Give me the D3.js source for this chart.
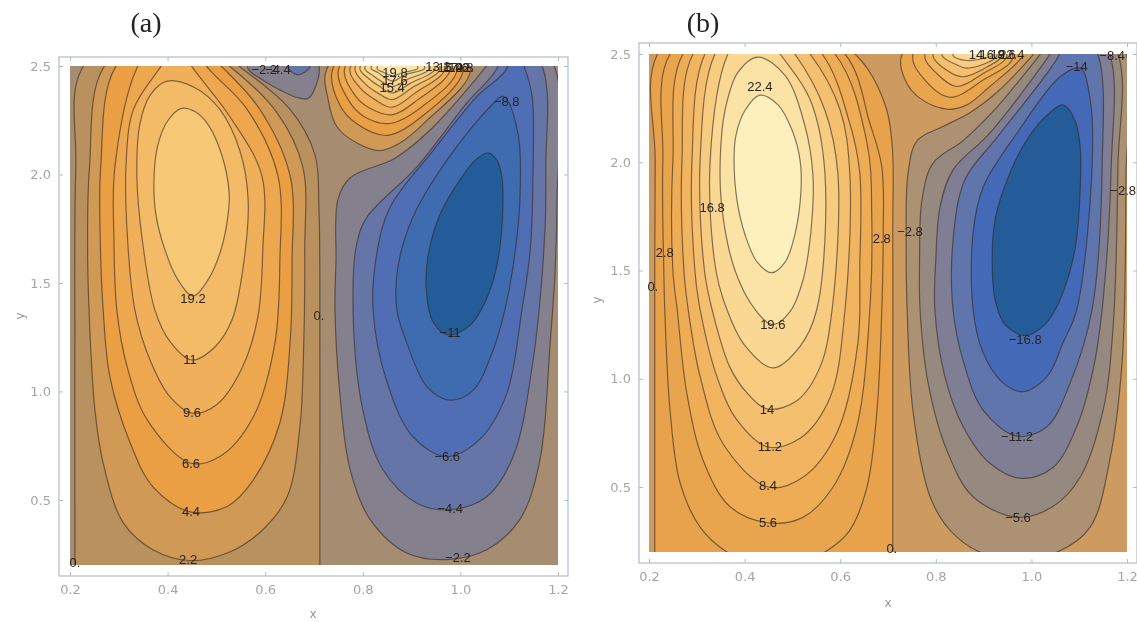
<!DOCTYPE html>
<html>
<head>
<meta charset="utf-8">
<script src="https://cdn.jsdelivr.net/npm/d3@7"></script>
<style>
  html, body { margin: 0; padding: 0; background: #fff; overflow: hidden; }
  svg { display: block; }
</style>
</head>
<body>
<svg id="chart" width="1137" height="622"></svg>
<script>
var xTicks = [0.2, 0.4, 0.6, 0.8, 1.0, 1.2];
var yTicks = [0.5, 1.0, 1.5, 2.0, 2.5];

// panel (a): contour levels, each with the outline
var levelsA = [0, 2.2, 4.4, 6.6, 8.8, 11, 13.2,
  -2.2, -4.4,
  2.2, 4.4, 6.6, 8.8, 11, 13.2, 15.4, 17.6, 19.8, 22,
  -2.2, -4.4, -6.6, -8.8, -11];
var linesA = [
  [[.21,-.2],[.21,.1],[.21,.5],[.21,1.2],[.212,2.03],[.225,2.49],[.39,2.75],[.552,2.49],[.651,2.3],[.702,2.09],[.71,1.85],[.712,1.2],[.712,.5],[.712,.1],[.712,-.2]],
  [[.268,2.49],[.24,2.035],[.236,1.7],[.239,1.375],[.251,.915],[.268,.67],[.309,.395],[.37,.27],[.446,.22],[.522,.255],[.589,.35],[.645,.515],[.671,.835],[.679,1.225],[.681,1.65],[.677,2.035],[.624,2.285],[.532,2.49],[.40,2.7]],
  [[.292,2.49],[.263,2.035],[.262,1.7],[.268,1.375],[.282,1.065],[.323,.765],[.37,.56],[.446,.445],[.522,.47],[.575,.59],[.63,.855],[.651,1.225],[.655,1.6],[.651,1.995],[.589,2.30],[.514,2.49],[.41,2.7]],
  [[.337,2.49],[.292,2.035],[.29,1.7],[.296,1.375],[.317,1.115],[.358,.87],[.446,.67],[.507,.70],[.575,.88],[.62,1.225],[.63,1.6],[.626,1.995],[.563,2.30],[.483,2.49],[.41,2.7]],
  [[.384,2.49],[.33,2.30],[.315,2.05],[.318,1.7],[.333,1.375],[.364,1.145],[.405,.975],[.45,.90],[.501,.94],[.554,1.115],[.585,1.345],[.595,1.65],[.593,1.995],[.528,2.265],[.452,2.49],[.42,2.6]],
  [[.399,2.43],[.364,2.365],[.343,2.23],[.337,1.995],[.348,1.70],[.374,1.375],[.405,1.23],[.45,1.145],[.497,1.205],[.532,1.33],[.554,1.56],[.565,1.885],[.548,2.11],[.507,2.30],[.456,2.40]],
  [[.429,2.305],[.401,2.25],[.38,2.135],[.372,1.975],[.376,1.815],[.395,1.65],[.421,1.515],[.452,1.44],[.483,1.515],[.509,1.65],[.524,1.815],[.526,1.92],[.511,2.09],[.483,2.23],[.456,2.29]],
  [[.563,2.5],[.595,2.435],[.63,2.39],[.665,2.355],[.688,2.35],[.704,2.41],[.71,2.5],[.65,2.7]],
  [[.645,2.5],[.665,2.46],[.68,2.47],[.692,2.5],[.67,2.6]],
  [[.727,2.49],[.729,2.345],[.747,2.22],[.788,2.145],[.835,2.11],[.876,2.145],[.927,2.24],[1.02,2.49],[.87,2.7]],
  [[.739,2.49],[.753,2.32],[.79,2.23],[.85,2.18],[.917,2.26],[1.005,2.49],[.87,2.7]],
  [[.751,2.49],[.77,2.345],[.804,2.265],[.856,2.235],[.917,2.305],[.993,2.49],[.87,2.7]],
  [[.763,2.49],[.784,2.365],[.815,2.305],[.86,2.275],[.913,2.345],[.979,2.49],[.87,2.68]],
  [[.774,2.49],[.794,2.40],[.825,2.345],[.86,2.31],[.907,2.375],[.968,2.49],[.87,2.66]],
  [[.784,2.49],[.804,2.42],[.831,2.375],[.86,2.345],[.901,2.40],[.958,2.49],[.87,2.64]],
  [[.794,2.49],[.813,2.44],[.835,2.405],[.86,2.375],[.897,2.42],[.948,2.49],[.87,2.62]],
  [[.804,2.49],[.821,2.455],[.841,2.425],[.86,2.405],[.893,2.44],[.938,2.49],[.87,2.6]],
  [[.817,2.49],[.831,2.47],[.847,2.445],[.862,2.43],[.886,2.46],[.927,2.49],[.87,2.58]],
  [[.829,2.49],[.843,2.47],[.862,2.455],[.882,2.47],[.913,2.49],[.87,2.56]],
  [[.743,1.375],[.753,.99],[.774,.64],[.815,.41],[.89,.255],[.972,.225],[1.054,.27],[1.122,.41],[1.163,.685],[1.184,1.225],[1.194,1.55],[1.198,1.885],[1.194,2.49],[1.12,2.7],[1.05,2.49],[.938,2.205],[.866,2.075],[.774,1.985],[.749,1.885],[.745,1.6]],
  [[.78,1.375],[.80,.915],[.841,.64],[.911,.485],[.979,.455],[1.054,.515],[1.108,.70],[1.149,1.145],[1.173,1.73],[1.175,2.035],[1.169,2.49],[1.10,2.7],[1.075,2.49],[1.013,2.33],[.911,2.035],[.809,1.805],[.788,1.685]],
  [[.821,1.375],[.85,1.04],[.903,.79],[.972,.70],[1.04,.78],[1.095,.99],[1.126,1.375],[1.143,1.65],[1.149,2.035],[1.147,2.36],[1.132,2.49],[1.10,2.65],[1.095,2.49],[1.034,2.36],[.944,2.11],[.856,1.85],[.829,1.64]],
  [[.87,1.375],[.89,1.225],[.932,1.02],[.979,.96],[1.026,1.005],[1.067,1.19],[1.091,1.375],[1.108,1.575],[1.122,1.885],[1.118,2.19],[1.088,2.36],[1.06,2.31],[.972,2.065],[.903,1.805],[.872,1.575]],
  [[1.057,2.10],[1.075,2.065],[1.085,1.99],[1.087,1.835],[1.077,1.605],[1.057,1.445],[1.02,1.305],[.975,1.26],[.944,1.32],[.93,1.47],[.934,1.63],[.958,1.815],[.999,1.975],[1.03,2.065]]
];
var labelTextA = ["\u22122.2", "\u22124.4", "19.8", "17.6", "15.4", "13.2", "15.4", "17.6", "19.8", "22.",
  "\u22128.8", "19.2", "11", "9.6", "6.6", "4.4", "2.2", "0.", "0.", "\u221211", "\u22126.6", "\u22124.4", "\u22122.2"];
var labelXA = [.598, .626, .866, .866, .86, .954, .979, .991, 1.001, 1.009,
  1.095, .452, .446, .45, .448, .448, .442, .21, .71, .979, .973, .979, .995];
var labelYA = [2.485, 2.485, 2.47, 2.435, 2.40, 2.5, 2.495, 2.495, 2.495, 2.495,
  2.335, 1.43, 1.145, .905, .67, .445, .225, .21, 1.35, 1.27, .70, .46, .235];

// panel (b)
var levelsB = [0, 2.8, 5.6, 8.4, 11.2, 14, 16.8, 19.6, 22.4,
  2.8, 5.6, 8.4, 11.2, 14, 16.8,
  -2.8, -5.6, -8.4, -11.2, -14, -16.8];
var linesB = [
  [[.212,-.2],[.212,.1],[.212,.5],[.212,1.2],[.213,2.0],[.218,2.5],[.40,2.8],[.631,2.5],[.69,2.29],[.708,2.10],[.71,1.675],[.71,1.0],[.71,.5],[.71,.1],[.71,-.2]],
  [[.244,2.5],[.229,2.01],[.231,1.5],[.233,1.32],[.244,.855],[.265,.52],[.307,.315],[.363,.2],[.464,.11],[.568,.2],[.62,.30],[.656,.50],[.677,.855],[.687,1.32],[.69,1.675],[.687,1.98],[.662,2.18],[.61,2.5],[.42,2.75]],
  [[.271,2.5],[.25,2.01],[.25,1.5],[.259,1.32],[.279,.935],[.313,.625],[.369,.41],[.449,.335],[.522,.36],[.585,.50],[.635,.78],[.662,1.32],[.666,1.75],[.656,2.09],[.589,2.5],[.42,2.75]],
  [[.292,2.5],[.269,2.01],[.273,1.5],[.282,1.32],[.307,1.01],[.355,.70],[.449,.50],[.522,.545],[.593,.75],[.637,1.165],[.641,1.515],[.641,1.95],[.62,2.18],[.562,2.5],[.42,2.75]],
  [[.317,2.5],[.29,2.01],[.296,1.5],[.307,1.32],[.342,1.01],[.384,.81],[.449,.685],[.516,.725],[.579,.915],[.61,1.32],[.62,1.95],[.60,2.24],[.537,2.5],[.42,2.75]],
  [[.338,2.5],[.307,2.01],[.316,1.5],[.332,1.32],[.369,1.055],[.405,.935],[.449,.86],[.51,.90],[.558,1.055],[.583,1.32],[.595,1.95],[.568,2.24],[.505,2.5],[.42,2.7]],
  [[.365,2.5],[.328,2.01],[.34,1.5],[.363,1.32],[.40,1.155],[.459,1.05],[.516,1.15],[.551,1.32],[.568,1.95],[.537,2.29],[.474,2.5],[.42,2.65]],
  [[.428,2.486],[.386,2.415],[.359,2.24],[.349,2.01],[.353,1.78],[.38,1.50],[.422,1.32],[.459,1.25],[.495,1.31],[.522,1.455],[.539,1.687],[.543,1.94],[.526,2.17],[.485,2.40]],
  [[.432,2.31],[.401,2.24],[.382,2.125],[.378,2.01],[.384,1.825],[.401,1.665],[.426,1.54],[.457,1.49],[.485,1.54],[.505,1.665],[.518,1.87],[.516,2.01],[.499,2.15],[.47,2.265]],
  [[.729,2.495],[.736,2.38],[.767,2.295],[.823,2.245],[.865,2.265],[.913,2.35],[.97,2.46],[.982,2.5],[.85,2.72]],
  [[.752,2.495],[.777,2.38],[.83,2.30],[.899,2.38],[.961,2.486],[.85,2.7]],
  [[.777,2.495],[.802,2.41],[.844,2.35],[.899,2.41],[.949,2.495],[.86,2.68]],
  [[.794,2.495],[.823,2.425],[.857,2.395],[.907,2.44],[.938,2.495],[.865,2.65]],
  [[.813,2.495],[.844,2.45],[.865,2.435],[.913,2.465],[.928,2.495],[.87,2.6]],
  [[.836,2.495],[.865,2.47],[.899,2.48],[.918,2.495],[.875,2.58]],
  [[.74,1.32],[.752,.855],[.788,.455],[.83,.30],[.892,.2],[.972,.17],[1.054,.2],[1.123,.315],[1.164,.625],[1.19,1.085],[1.198,1.95],[1.198,2.5],[1.10,2.75],[.997,2.48],[.934,2.335],[.872,2.23],[.815,2.165],[.761,2.10],[.742,1.95],[.738,1.6]],
  [[.767,1.32],[.784,.98],[.823,.67],[.878,.455],[.972,.36],[1.045,.41],[1.102,.545],[1.15,.855],[1.171,1.24],[1.181,1.98],[1.181,2.5],[1.10,2.72],[1.012,2.48],[.928,2.255],[.857,2.10],[.794,1.995],[.771,1.825],[.766,1.55]],
  [[.798,1.32],[.819,1.01],[.857,.78],[.913,.61],[.98,.54],[1.045,.59],[1.095,.78],[1.129,1.04],[1.148,1.32],[1.167,1.98],[1.164,2.5],[1.10,2.7],[1.033,2.48],[.913,2.135],[.836,1.965],[.809,1.795],[.8,1.55]],
  [[.836,1.32],[.857,1.085],[.899,.855],[.97,.735],[1.033,.78],[1.081,.98],[1.127,1.32],[1.148,1.98],[1.139,2.5],[1.09,2.65],[1.054,2.48],[.928,2.115],[.861,1.92],[.836,1.64]],
  [[.878,1.32],[.899,1.12],[.941,.98],[.982,.94],[1.033,1.01],[1.066,1.165],[1.095,1.32],[1.127,1.98],[1.123,2.29],[1.102,2.435],[1.06,2.395],[.97,2.135],[.899,1.885],[.878,1.675]],
  [[1.066,2.265],[1.091,2.195],[1.102,2.07],[1.102,1.87],[1.091,1.595],[1.06,1.365],[1.028,1.25],[.987,1.2],[.945,1.25],[.924,1.365],[.918,1.55],[.924,1.735],[.955,1.95],[.997,2.125],[1.039,2.23]]
];
var labelTextB = ["22.4", "16.8", "2.8", "0.", "19.6", "14", "11.2", "8.4", "5.6", "2.8", "\u22122.8",
  "\u221214", "\u22128.4", "\u22122.8", "\u221216.8", "\u221211.2", "\u22125.6", "0.", "14.", "16.8", "19.6", "22.4"];
var labelXB = [.432, .332, .233, .208, .459, .447, .453, .449, .449, .687, .746,
  1.095, 1.169, 1.192, .987, .97, .972, .708, .888, .918, .941, .959];
var labelYB = [2.35, 1.79, 1.585, 1.425, 1.25, .86, .685, .505, .335, 1.65, 1.68,
  2.44, 2.495, 1.87, 1.18, .735, .36, .215, 2.5, 2.5, 2.5, 2.5];

var colorLevelsA = [-11, -8.8, -6.6, -4.4, -2.2, 0, 2.2, 4.4, 6.6, 8.8, 11, 13.2, 22];
var colorsA = ["#235c99", "#3f6bb0", "#4f6eb4", "#6575a8", "#85808e", "#b8915f", "#d09955", "#ea9f44", "#eda74f", "#f0b05b", "#f3bb68", "#f7c876", "#fbe5a8"];
var colorLevelsB = [-16.8, -14, -11.2, -8.4, -5.6, -2.8, 0, 2.8, 5.6, 8.4, 11.2, 14, 16.8, 19.6, 22.4];
var colorsB = ["#235c99", "#4469b6", "#5f75ab", "#7f7e95", "#96897f", "#ac9272", "#e8a24b", "#e9a54e", "#eeac55", "#f1b461", "#f4bf6e", "#f7cb80", "#fad893", "#fbe2a5", "#fdf0bd"];

var svg = d3.select("#chart");

var drawPanel = function (o) {
  var x = d3.scaleLinear().domain([0.2, 1.2]).range(o.xRange);
  var y = d3.scaleLinear().domain([0.2, 2.5]).range(o.yRange);
  var color = d3.scaleLinear().domain(o.colorLevels).range(o.colors);
  var g = svg.append("g");

  // frame around the plot
  var f = o.frame;
  g.append("rect")
    .attr("x", f[0]).attr("y", f[1])
    .attr("width", f[2] - f[0]).attr("height", f[3] - f[1])
    .attr("fill", "#fff").attr("stroke", "#b4bcc6").attr("stroke-width", 1.2);

  // ticks on the frame, labels bottom and left only
  var addAxis = function (axis, dx, dy) {
    var a = g.append("g")
      .attr("transform", "translate(" + dx + "," + dy + ")")
      .call(axis);
    a.select(".domain").remove();
    a.selectAll("line").attr("stroke", "#b4bcc6");
    a.selectAll("text")
      .attr("fill", "#a6a6a6")
      .attr("font-family", "'DejaVu Sans', sans-serif")
      .attr("font-size", 13);
  };
  addAxis(d3.axisBottom(x).tickValues(xTicks).tickFormat(d3.format(".1f")).tickSize(-4).tickPadding(9), 0, f[3]);
  addAxis(d3.axisLeft(y).tickValues(yTicks).tickFormat(d3.format(".1f")).tickSize(-4).tickPadding(8), f[0], 0);
  addAxis(d3.axisTop(x).tickValues(xTicks).tickFormat("").tickSize(-4), 0, f[1]);
  addAxis(d3.axisRight(y).tickValues(yTicks).tickFormat("").tickSize(-4), f[2], 0);

  // clip of the filled area
  g.append("clipPath").attr("id", o.id)
    .append("rect")
    .attr("x", x(0.2)).attr("y", y(2.5))
    .attr("width", x(1.2) - x(0.2)).attr("height", y(0.2) - y(2.5));

  var area = g.append("g").attr("clip-path", "url(#" + o.id + ")");
  area.append("rect")
    .attr("x", x(0.2)).attr("y", y(2.5))
    .attr("width", x(1.2) - x(0.2)).attr("height", y(0.2) - y(2.5))
    .attr("fill", o.base);

  var line = d3.line()
    .x(function (d) { return x(d[0]); })
    .y(function (d) { return y(d[1]); })
    .curve(d3.curveCatmullRomClosed.alpha(0.5));

  // painted outside in, so the inner bands sit on top
  area.selectAll("path")
    .data(o.lines)
    .enter()
    .append("path")
    .attr("d", line)
    .attr("fill", function (d, i) { return color(o.levels[i]); })
    .attr("stroke", "#33281f")
    .attr("stroke-opacity", 0.6)
    .attr("stroke-width", 1.2);

  // contour labels
  g.selectAll("text.lab")
    .data(o.labelText)
    .enter()
    .append("text")
    .attr("class", "lab")
    .attr("x", function (d, i) { return x(o.labelX[i]); })
    .attr("y", function (d, i) { return y(o.labelY[i]) + 4.5; })
    .attr("text-anchor", "middle")
    .attr("font-family", "'Liberation Sans', sans-serif")
    .attr("font-size", 13)
    .attr("fill", "#2a2420")
    .text(function (d) { return d; });

  // axis names and panel title
  g.append("text").attr("x", o.xName[0]).attr("y", o.xName[1])
    .attr("text-anchor", "middle").attr("fill", "#999")
    .attr("font-family", "'DejaVu Sans', sans-serif").attr("font-size", 12)
    .text("x");
  g.append("text")
    .attr("transform", "translate(" + o.yName[0] + "," + o.yName[1] + ") rotate(-90)")
    .attr("text-anchor", "middle").attr("fill", "#999")
    .attr("font-family", "'DejaVu Sans', sans-serif").attr("font-size", 12)
    .text("y");
  g.append("text").attr("x", o.title[0]).attr("y", 32)
    .attr("text-anchor", "middle").attr("fill", "#222")
    .attr("font-family", "'Liberation Serif', serif").attr("font-size", 28)
    .text(o.name);

  g.style("filter", "blur(0.6px)");
};

drawPanel({
  id: "clipA", name: "(a)",
  xRange: [70, 558], yRange: [565, 66], frame: [59, 57, 568, 576],
  base: "#a68c70",
  levels: levelsA, lines: linesA,
  labelText: labelTextA, labelX: labelXA, labelY: labelYA,
  colorLevels: colorLevelsA, colors: colorsA,
  xName: [313, 618], yName: [24, 316], title: [146, 0]
});
drawPanel({
  id: "clipB", name: "(b)",
  xRange: [649, 1127], yRange: [552, 54], frame: [639, 43, 1137, 563],
  base: "#cd9a60",
  levels: levelsB, lines: linesB,
  labelText: labelTextB, labelX: labelXB, labelY: labelYB,
  colorLevels: colorLevelsB, colors: colorsB,
  xName: [888, 607], yName: [601, 300], title: [703, 0]
});
</script>
</body>
</html>
